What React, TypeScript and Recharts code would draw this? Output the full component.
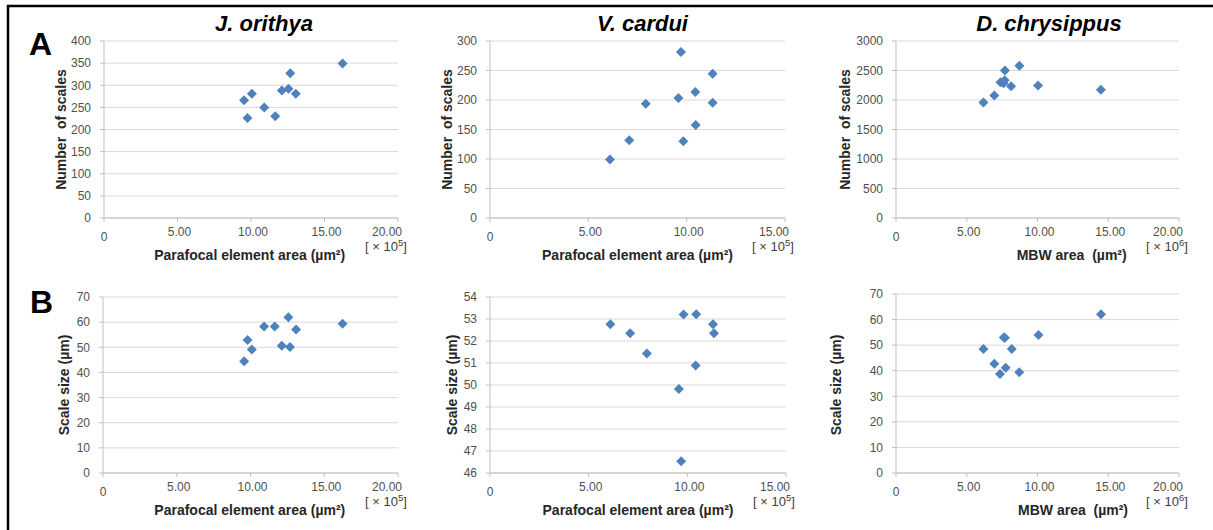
import React from 'react';
import { ScatterChart, Scatter, XAxis, YAxis, CartesianGrid } from 'recharts';

const FONT = '"Liberation Sans", Arial, sans-serif';
const MARK = '#4f81bd';
const TICK_COLOR = '#505050';
const TITLE_COLOR = '#262626';

// ---- Data (x in units of 1e5 or 1e6 µm²) ----
const jOrithyaAreaA = [9.53, 9.76, 10.06, 10.9, 11.65, 12.1, 12.55, 12.67, 13.05, 16.23];
const jOrithyaScaleCount = [266, 226, 281, 250, 230, 288, 292, 327, 281, 349];

const vCarduiAreaA = [6.1, 7.08, 7.92, 9.58, 9.71, 9.83, 10.44, 10.46, 11.32, 11.32];
const vCarduiScaleCount = [99, 131.6, 193.8, 203.4, 281.4, 129.9, 213.6, 157.6, 244.6, 195.5];

const dChrysippusAreaA = [6.18, 6.95, 7.38, 7.6, 7.68, 7.7, 8.13, 8.72, 10.04, 14.48];
const dChrysippusScaleCount = [1959, 2075, 2300, 2285, 2335, 2500, 2231, 2581, 2245, 2175];

const jOrithyaAreaB = [9.57, 9.8, 10.09, 10.92, 11.64, 12.12, 12.57, 12.68, 13.09, 16.24];
const jOrithyaScaleSize = [44.4, 52.9, 49.1, 58.3, 58.3, 50.6, 61.9, 50.1, 57.1, 59.4];

const vCarduiAreaB = [6.1, 7.1, 7.95, 9.57, 9.81, 9.69, 10.45, 10.42, 11.3, 11.35];
const vCarduiScaleSize = [52.76, 52.35, 51.43, 49.82, 53.2, 46.53, 53.22, 50.89, 52.76, 52.35];

const dChrysippusAreaB = [6.18, 6.95, 7.35, 7.62, 7.7, 7.75, 8.18, 8.71, 10.07, 14.49];
const dChrysippusScaleSize = [48.5, 42.7, 38.7, 53.0, 52.9, 41.2, 48.5, 39.4, 54.0, 62.1];

// ---- Ticks ----
const xTicks20 = [0, 5, 10, 15, 20];
const xTicks15 = [0, 5, 10, 15];
const yTicks400 = [0, 50, 100, 150, 200, 250, 300, 350, 400];
const yTicks300 = [0, 50, 100, 150, 200, 250, 300];
const yTicks3000 = [0, 500, 1000, 1500, 2000, 2500, 3000];
const yTicks70 = [0, 10, 20, 30, 40, 50, 60, 70];
const yTicks54 = [46, 47, 48, 49, 50, 51, 52, 53, 54];

const speciesTitles = ['J. orithya', 'V. cardui', 'D. chrysippus'];
const xTitles = ['Parafocal element area (µm²)', 'Parafocal element area (µm²)', 'MBW area\u00a0\u00a0(µm²)'];
const yTitlesA = 'Number  of scales';
const yTitlesB = 'Scale size (µm)';
const exponents = ['5', '5', '6'];

const zip = (xs: number[], ys: number[]) => xs.map((x, i) => ({ x, y: ys[i] }));

const Diamond = (props: any) => {
  const { cx, cy } = props;
  if (cx == null || cy == null) return null;
  const r = 5;
  return (
    <polygon
      points={`${cx},${cy - r} ${cx + r},${cy} ${cx},${cy + r} ${cx - r},${cy}`}
      fill={MARK}
    />
  );
};

const makeXTick = (xMax: number) => (props: any) => {
  const { x, y, payload } = props;
  const v = payload.value;
  const label = v === 0 ? '0' : v.toFixed(2);
  let tx = x + 2;
  let anchor: any = 'middle';
  let dy = 0;
  if (v === 0) {
    tx = x;
    dy = 5.5;
  }
  if (v === xMax) {
    tx = x + 4;
    anchor = 'end';
  }
  return (
    <text x={tx} y={y + dy} dy="0.72em" textAnchor={anchor} fill={TICK_COLOR} fontSize={12} fontFamily={FONT}>
      {label}
    </text>
  );
};

const YTick = (props: any) => {
  const { x, y, payload } = props;
  return (
    <text x={x} y={y} dy="0.36em" textAnchor="end" fill={TICK_COLOR} fontSize={12} fontFamily={FONT}>
      {String(payload.value)}
    </text>
  );
};

type Panel = {
  left: number;
  top: number;
  w: number;
  h: number;
  xMax: number;
  xTicks: number[];
  yDomain: [number, number];
  yTicks: number[];
  data: { x: number; y: number }[];
};

const panels: Panel[] = [
  { left: 104, top: 41, w: 294, h: 177, xMax: 20, xTicks: xTicks20, yDomain: [0, 400], yTicks: yTicks400, data: zip(jOrithyaAreaA, jOrithyaScaleCount) },
  { left: 490, top: 41, w: 295, h: 177, xMax: 15, xTicks: xTicks15, yDomain: [0, 300], yTicks: yTicks300, data: zip(vCarduiAreaA, vCarduiScaleCount) },
  { left: 896, top: 41, w: 283, h: 177, xMax: 20, xTicks: xTicks20, yDomain: [0, 3000], yTicks: yTicks3000, data: zip(dChrysippusAreaA, dChrysippusScaleCount) },
  { left: 103, top: 297, w: 295, h: 176, xMax: 20, xTicks: xTicks20, yDomain: [0, 70], yTicks: yTicks70, data: zip(jOrithyaAreaB, jOrithyaScaleSize) },
  { left: 490, top: 297, w: 296, h: 176, xMax: 15, xTicks: xTicks15, yDomain: [46, 54], yTicks: yTicks54, data: zip(vCarduiAreaB, vCarduiScaleSize) },
  { left: 896, top: 294, w: 283, h: 179, xMax: 20, xTicks: xTicks20, yDomain: [0, 70], yTicks: yTicks70, data: zip(dChrysippusAreaB, dChrysippusScaleSize) },
];

const ML = 60;
const MT = 10;
const MR = 20;
const XH = 40;

const PanelChart = ({ p }: { p: Panel }) => (
  <div style={{ position: 'absolute', left: p.left - ML, top: p.top - MT }}>
    <ScatterChart
      width={p.w + ML + MR}
      height={p.h + MT + XH}
      margin={{ top: MT, right: MR, bottom: 0, left: 0 }}
    >
      <CartesianGrid vertical={false} stroke="#d9d9d9" strokeWidth={1} />
      <XAxis
        type="number"
        dataKey="x"
        domain={[0, p.xMax]}
        ticks={p.xTicks}
        allowDataOverflow
        height={XH}
        stroke="#c0c0c0"
        tickSize={4}
        tickMargin={5}
        tick={makeXTick(p.xMax)}
        interval={0}
      />
      <YAxis
        type="number"
        dataKey="y"
        domain={p.yDomain}
        ticks={p.yTicks}
        allowDataOverflow
        width={ML}
        stroke="#c0c0c0"
        tickSize={4}
        tickMargin={9}
        tick={<YTick />}
        interval={0}
      />
      <Scatter data={p.data} fill={MARK} shape={<Diamond />} isAnimationActive={false} />
    </ScatterChart>
  </div>
);

const titleCenters = [264, 642.5, 1049];
const xTitleCentersA = [249.7, 637.5, 1071.7];
const xTitleCentersB = [249.8, 638, 1073];
const yTitleA = [65.5, 452.3, 850];
const yTitleB = [68.7, 457, 841.3];

export default function App() {
  const axisBottomA = 218;
  const axisBottomB = 473;
  return (
    <div style={{ position: 'absolute', left: 0, top: 0, width: 1213, height: 530, background: '#fff', overflow: 'hidden' }}>
      {panels.map((p, i) => (
        <PanelChart key={i} p={p} />
      ))}
      <svg width={1213} height={530} style={{ position: 'absolute', left: 0, top: 0, pointerEvents: 'none' }}>
        <line x1={7} y1={6} x2={1213} y2={6} stroke="#000" strokeWidth={2.5} />
        <line x1={8} y1={5} x2={8} y2={530} stroke="#000" strokeWidth={2.5} />
        <text x={29} y={55} fontSize={32} fontWeight="bold" fontFamily={FONT} fill="#000">A</text>
        <text x={30} y={313} fontSize={32} fontWeight="bold" fontFamily={FONT} fill="#000">B</text>
        {speciesTitles.map((t, i) => (
          <text key={'t' + i} x={titleCenters[i]} y={31} textAnchor="middle" fontSize={22} fontWeight="bold" fontStyle="italic" fontFamily={FONT} fill="#000">
            {t}
          </text>
        ))}
        {xTitles.map((t, i) => (
          <text key={'xa' + i} x={xTitleCentersA[i]} y={axisBottomA + 42} textAnchor="middle" fontSize={14} fontWeight="bold" fontFamily={FONT} fill={TITLE_COLOR} style={{ whiteSpace: 'pre' }}>
            {t}
          </text>
        ))}
        {xTitles.map((t, i) => (
          <text key={'xb' + i} x={xTitleCentersB[i]} y={axisBottomB + 42} textAnchor="middle" fontSize={14} fontWeight="bold" fontFamily={FONT} fill={TITLE_COLOR} style={{ whiteSpace: 'pre' }}>
            {t}
          </text>
        ))}
        {yTitleA.map((x, i) => (
          <text key={'ya' + i} transform={`translate(${x},129.5) rotate(-90)`} textAnchor="middle" fontSize={14} fontWeight="bold" fontFamily={FONT} fill={TITLE_COLOR} style={{ whiteSpace: 'pre' }}>
            {yTitlesA}
          </text>
        ))}
        {yTitleB.map((x, i) => (
          <text key={'yb' + i} transform={`translate(${x},385) rotate(-90)`} textAnchor="middle" fontSize={14} fontWeight="bold" fontFamily={FONT} fill={TITLE_COLOR}>
            {yTitlesB}
          </text>
        ))}
        {panels.map((p, i) => {
          const cx = p.left + p.w - 12;
          const base = p.top + p.h + 33;
          return (
            <text key={'e' + i} x={cx} y={base} textAnchor="middle" fontSize={13} fontFamily={FONT} fill="#404040" style={{ whiteSpace: 'pre' }}>
              {'[ × 10'}
              <tspan fontSize={9.5} dy={-5}>{exponents[i % 3]}</tspan>
              <tspan dy={5}>{']'}</tspan>
            </text>
          );
        })}
      </svg>
    </div>
  );
}
